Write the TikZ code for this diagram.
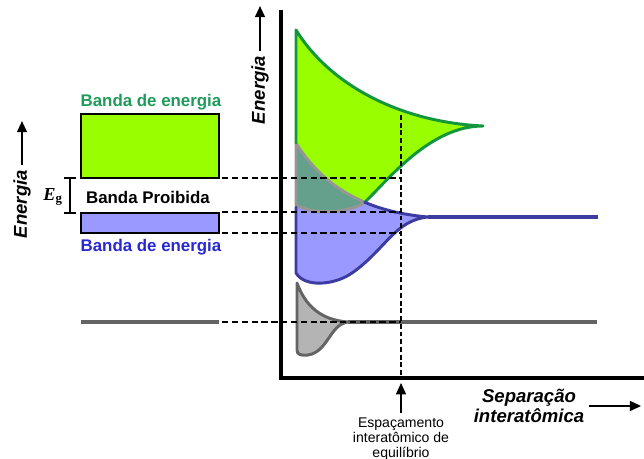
\documentclass[tikz,border=0pt]{standalone}
\usepackage{fontspec}
\setmainfont{Liberation Sans}
\newfontfamily\serifE{Liberation Serif}
\usetikzlibrary{arrows.meta}

\definecolor{bandgreen}{RGB}{153,255,0}
\definecolor{edgegreen}{RGB}{20,150,60}
\definecolor{txtgreen}{RGB}{30,155,90}
\definecolor{bandblue}{RGB}{153,153,255}
\definecolor{edgeblue}{RGB}{60,60,160}
\definecolor{txtblue}{RGB}{40,40,210}
\definecolor{bandgrey}{RGB}{180,180,180}
\definecolor{edgegrey}{RGB}{100,100,100}
\definecolor{overlap}{RGB}{100,160,140}
\definecolor{overedge}{RGB}{150,150,150}

\tikzset{
  axis/.style={line width=2.2pt},
  guide/.style={line width=1.3pt,dash pattern=on 4.5pt off 2.5pt},
  tiparrow/.style={line width=1.5pt,-{Triangle[length=8pt,width=7pt]}},
  bandedge/.style={line width=2.1pt,line join=round,line cap=round},
  bandtext/.style={font=\bfseries\fontsize{12}{14}\selectfont},
  axistext/.style={font=\bfseries\itshape\fontsize{13.2}{14.2}\selectfont},
}

\begin{document}
\begin{tikzpicture}[x=0.025cm,y=-0.025cm]
    \useasboundingbox (0,0) rectangle (644,459);
    % left: the bands of the solid
    \draw[line width=1.5pt,fill=bandgreen](81,114)rectangle(219,178);
    \draw[line width=1.5pt,fill=bandblue](81,213)rectangle(219,233);
    \draw[line width=2.8pt,edgegrey](81,322)--(219,322);
    \node[bandtext,txtgreen] (bandtop) at (151,102) {Banda de energia};
    \node[bandtext] (bandgap) at (148,197) {Banda Proibida};
    \node[bandtext,txtblue] (bandbot) at (151,247) {Banda de energia};
    \draw[line width=1.5pt](64,178)--(76,178) (70,178)--(70,213) (64,213)--(76,213);
    \node (eg) at (53,197) {\fontsize{13}{15}\selectfont\serifE\bfseries\itshape E\textsubscript{\upshape g}};
    \node[axistext,rotate=90] (elab) at (22,204) {Energia};
    \draw[tiparrow](elab.east)--++(0,-44);

    % right: axes
    \coordinate (ytop) at (281,10);
    \coordinate (O) at (281,378);
    \coordinate (xend) at (644,378);
    \draw[axis](ytop)--(O)--(xend);
    \node[axistext,rotate=90] (elabr) at (260,90) {Energia};
    \draw[tiparrow](elabr.east)--++(0,-45);
    \node[axistext,align=center] (sep) at (529,406) {Separação\\interatômica};
    \draw[tiparrow](sep.east)--++(52,0);

    % fills
    \fill[bandgreen](296,30) .. controls (330,85) and (400,122) .. (483,126)
        .. controls (430,126) and (388,180) .. (364.8,202.3)
        .. controls (352,212) and (315,216) .. (296,205) -- cycle;
    \fill[bandblue](296,143) .. controls (313.4,171.2) and (336.6,190.4) .. (364.8,202.3)
        .. controls (383.7,210.3) and (404.8,215) .. (428,217)
        .. controls (395,220) and (385,250) .. (352,273)
        .. controls (335,285) and (305,288) .. (296,273) -- cycle;
    \fill[overlap](296,143) .. controls (313.4,171.2) and (336.6,190.4) .. (364.8,202.3)
        .. controls (352,212) and (315,216) .. (296,205) -- cycle;
    \fill[bandgrey](297,283) .. controls (305,305) and (320,320) .. (348,322)
        .. controls (330,324) and (328,352) .. (308,355)
        .. controls (300,356) and (297,354) .. (297,350) -- cycle;

    % edges
    \draw[bandedge,overedge](296,205)--(296,143) .. controls (313.4,171.2) and (336.6,190.4) .. (364.8,202.3)
        .. controls (352,212) and (315,216) .. (296,205);
    \draw[bandedge,edgegreen](296,143)--(296,30) .. controls (330,85) and (400,122) .. (483,126)
        .. controls (430,126) and (388,180) .. (364.8,202.3);
    \draw[bandedge,edgeblue](364.8,202.3) .. controls (383.7,210.3) and (404.8,215) .. (428,217)
        .. controls (395,220) and (385,250) .. (352,273)
        .. controls (335,285) and (305,288) .. (296,273)--(296,207);
    \draw[line width=2.8pt,edgeblue](428,217)--(598,217);
    \draw[bandedge,edgegrey](348,322) .. controls (330,324) and (328,352) .. (308,355)
        .. controls (300,356) and (297,354) .. (297,350)--(297,283)
        .. controls (305,305) and (320,320) .. (348,322);
    \draw[line width=2.8pt,edgegrey](348,322)--(597,322);

    % equilibrium spacing
    \coordinate (eqtop) at (401,115);
    \coordinate (eqbot) at (401,376);
    \draw[guide,dash pattern=on 3.5pt off 2pt](eqtop)--(eqbot);
    \foreach \y/\n in {178/a,212/b,233/c,322/d}{
        \coordinate (l\n) at (222,\y);
        \draw[guide](l\n)--(l\n -| eqtop);
    }
    \node[font=\fontsize{10}{10.7}\selectfont,align=center,anchor=north] (eqtxt) at (401,413)
        {Espaçamento\\interatômico de\\equilíbrio};
    \coordinate (eqtip) at (401,383);
    \draw[tiparrow,line width=1.2pt](eqtxt.north)--(eqtip);
\end{tikzpicture}
\end{document}
